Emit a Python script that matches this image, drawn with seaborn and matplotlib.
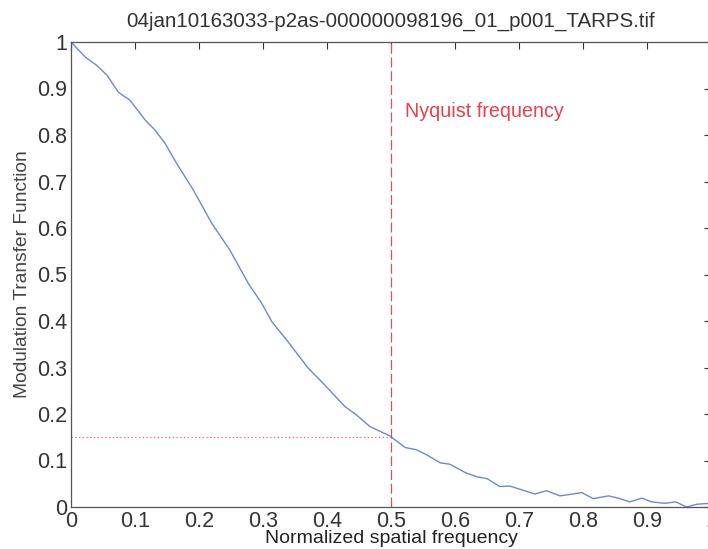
import matplotlib
matplotlib.use("Agg")
import matplotlib.pyplot as plt
import seaborn as sns
import pandas as pd

title = "04jan10163033-p2as-000000098196_01_p001_TARPS.tif"
x_label = "Normalized spatial frequency"
y_label = "Modulation Transfer Function"
annotation = "Nyquist frequency"
nyquist = 0.5
mtf_at_nyquist = 0.15

freq = [0.0, 0.022, 0.040, 0.056, 0.074, 0.092, 0.116, 0.131, 0.147, 0.165,
        0.191, 0.220, 0.248, 0.277, 0.298, 0.314, 0.337, 0.371, 0.394, 0.428,
        0.446, 0.467, 0.498, 0.522, 0.540, 0.556, 0.577, 0.592, 0.616, 0.634,
        0.650, 0.670, 0.686, 0.704, 0.725, 0.743, 0.764, 0.780, 0.798, 0.816,
        0.840, 0.855, 0.873, 0.892, 0.907, 0.928, 0.945, 0.962, 0.978, 1.0]
mtf = [1.0, 0.968, 0.950, 0.929, 0.892, 0.875, 0.832, 0.811, 0.782, 0.739,
       0.682, 0.610, 0.553, 0.481, 0.438, 0.398, 0.359, 0.298, 0.266, 0.216,
       0.198, 0.173, 0.153, 0.128, 0.123, 0.112, 0.095, 0.092, 0.074, 0.065,
       0.061, 0.044, 0.045, 0.037, 0.028, 0.035, 0.024, 0.027, 0.031, 0.018,
       0.024, 0.019, 0.011, 0.019, 0.011, 0.008, 0.011, 0.0, 0.006, 0.008]
ticks = [0, 0.1, 0.2, 0.3, 0.4, 0.5, 0.6, 0.7, 0.8, 0.9, 1]
tick_labels = ["0", "0.1", "0.2", "0.3", "0.4", "0.5", "0.6", "0.7", "0.8", "0.9", "1"]

sns.set_style("white")
plt.rcParams["font.family"] = ["Liberation Sans", "DejaVu Sans"]

df = pd.DataFrame({"freq": freq, "mtf": mtf})

fig = plt.figure(figsize=(7.08, 5.49), dpi=100)
ax = fig.add_axes([71 / 708, (549 - 507) / 549, 640 / 708, 465 / 549])

sns.lineplot(data=df, x="freq", y="mtf", ax=ax, color="#6f88cc", linewidth=1.0)

ax.plot([nyquist, nyquist], [0, 1], color="#e0505a", linestyle=(0, (8, 3)), linewidth=0.9)
ax.plot([0, nyquist], [mtf_at_nyquist, mtf_at_nyquist], color="#e07070",
        linestyle=(0, (1, 2)), linewidth=0.9)
ax.text(0.522, 0.85, annotation, color="#e8404e", fontsize=14.2, va="center", ha="left")

ax.set_xlim(0, 1)
ax.set_ylim(0, 1)
ax.set_xticks(ticks)
ax.set_xticklabels(tick_labels)
ax.set_yticks(ticks)
ax.set_yticklabels(tick_labels)
ax.tick_params(direction="in", top=True, right=True, length=5, width=0.8,
               labelsize=15.5, colors="#333333", pad=3)
for s in ax.spines.values():
    s.set_color("#555555")
    s.set_linewidth(0.9)

ax.set_xlabel(x_label, fontsize=14.0, color="#222222", labelpad=-1.5)
ax.set_ylabel(y_label, fontsize=13.8, color="#444444", labelpad=4)
ax.set_title(title, fontsize=14.8, color="#333333", pad=11)

fig.savefig("out.png", dpi=100)
